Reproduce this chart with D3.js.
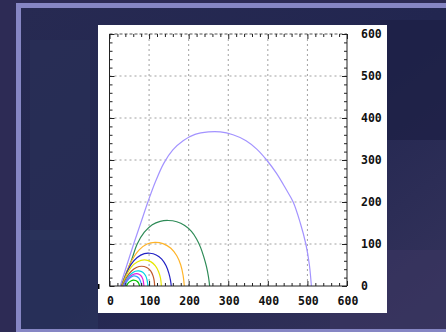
<!DOCTYPE html>
<html><head><meta charset="utf-8">
<script src="https://cdn.jsdelivr.net/npm/d3@7"></script>
<style>html,body{margin:0;padding:0;background:#2b2a52;overflow:hidden}</style>
</head><body>
<svg id="c" width="446" height="332"></svg>
<script>
// ---- data ----
const xTicks = [0, 100, 200, 300, 400, 500, 600];
const yTicks = [0, 100, 200, 300, 400, 500, 600];
const seriesNames = ["s1","s2","s3","s4","s5","s6","s7","s8","s9","s10"];
const seriesColors = ["#a393ff","#2e8b57","#ffb428","#2222c4","#e6e600","#c0582a","#00d4e6","#e020e0","#33a0ff","#00c000"];
const s1 = [[27,0],[44,50],[61,100],[79,150],[97,200],[116,248],[137,292],[160,324],[186,346],[216,361],[250,367],[280,367],[312,360],[345,346],[372,326],[397,300],[422,268],[445,232],[464,200],[482,150],[496,100],[505,50],[510,0]];
const s2 = [[30,0],[42,30],[55,60],[70,100],[88,128],[108,146],[128,154],[148,156],[170,153],[190,144],[207,130],[220,112],[230,92],[238,70],[245,46],[250,22],[253,0]];
const s3 = [[30,0],[42,30],[56,60],[75,86],[95,100],[115,104],[135,101],[155,90],[170,72],[180,50],[186,25],[189,0]];
const s4 = [[31,0],[42,28],[55,52],[70,68],[88,77],[102,78],[118,74],[132,64],[143,48],[150,30],[154,14],[156,0]];
const s5 = [[32,0],[42,25],[55,45],[70,57],[88,62],[104,58],[116,48],[124,34],[129,18],[131,0]];
const s6 = [[33,0],[43,20],[55,35],[68,44],[81,47],[94,44],[104,36],[110,24],[113,12],[114,0]];
const s7 = [[34,0],[44,17],[55,29],[65,35],[74,36],[84,33],[91,25],[95,14],[97,0]];
const s8 = [[35,0],[45,15],[55,25],[64,29],[72,29],[79,25],[84,17],[86,8],[87,0]];
const s9 = [[37,0],[45,12],[53,20],[61,24],[68,23],[74,19],[78,12],[80,6],[81,0]];
const s10 = [[43,0],[48,8],[54,12],[60,14],[66,13],[71,10],[74,6],[76,0]];
const seriesData = [s1,s2,s3,s4,s5,s6,s7,s8,s9,s10];

const svg = d3.select("#c");
const defs = svg.append("defs");
const g1 = defs.append("linearGradient").attr("id","bg").attr("x1","0").attr("y1","0").attr("x2","1").attr("y2","1");
g1.append("stop").attr("offset","0").attr("stop-color","#272a52");
g1.append("stop").attr("offset","0.5").attr("stop-color","#222650");
g1.append("stop").attr("offset","1").attr("stop-color","#36345c");
svg.append("rect").attr("width",446).attr("height",332).attr("fill","#2d2b55");
svg.append("rect").attr("x",16).attr("y",3).attr("width",440).attr("height",329).attr("fill","#8686c4");
svg.append("rect").attr("x",21).attr("y",8).attr("width",430).attr("height",321).attr("fill","url(#bg)");
const blocks = [[30,40,60,200,"#2a3058",0.6],[380,20,66,120,"#1c1f44",0.7],[330,250,116,79,"#3b3560",0.6],[21,230,77,99,"#2c3760",0.5]];
svg.selectAll("rect.blk").data(blocks).join("rect").attr("class","blk")
  .attr("x",d=>d[0]).attr("y",d=>d[1]).attr("width",d=>d[2]).attr("height",d=>d[3]).attr("fill",d=>d[4]).attr("opacity",d=>d[5]);

svg.append("rect").attr("x",98).attr("y",25).attr("width",289).attr("height",288).attr("fill","#ffffff");
svg.append("rect").attr("x",98).attr("y",284).attr("width",1.5).attr("height",5).attr("fill","#000");

const x = d3.scaleLinear().domain([0,600]).range([109.5,347]);
const y = d3.scaleLinear().domain([0,600]).range([286,34]);

const g = svg.append("g");
const gridColor = "#a0a0a0";
g.selectAll("line.vg").data(xTicks.slice(1,-1)).join("line").attr("class","vg")
  .attr("x1",d=>x(d)).attr("x2",d=>x(d)).attr("y1",y(0)).attr("y2",y(600))
  .attr("stroke",gridColor).attr("stroke-width",1).attr("stroke-dasharray","2,3");
g.selectAll("line.hg").data(yTicks.slice(1,-1)).join("line").attr("class","hg")
  .attr("y1",d=>y(d)).attr("y2",d=>y(d)).attr("x1",x(0)).attr("x2",x(600))
  .attr("stroke",gridColor).attr("stroke-width",1).attr("stroke-dasharray","2,3");

const line = d3.line().x(d=>x(d[0])).y(d=>y(d[1])).curve(d3.curveCatmullRom.alpha(0.5));
g.selectAll("path.s").data(seriesData).join("path").attr("class","s")
  .attr("d",line).attr("fill","none").attr("stroke",(d,i)=>seriesColors[i]).attr("stroke-width",1.2);

g.append("line").attr("x1",x(0)).attr("x2",x(600)).attr("y1",y(600)).attr("y2",y(600))
  .attr("stroke","#555").attr("stroke-dasharray","3,2");
g.append("line").attr("x1",x(0)).attr("x2",x(0)).attr("y1",y(0)).attr("y2",y(600)).attr("stroke","#222");
g.append("line").attr("x1",x(600)).attr("x2",x(600)).attr("y1",y(0)).attr("y2",y(600)).attr("stroke","#222");
g.append("line").attr("x1",x(0)).attr("x2",x(600)).attr("y1",y(0)).attr("y2",y(0)).attr("stroke","#222");

const minor = d3.range(0,601,20);
const axBottom = g.append("g").attr("transform",`translate(0,${y(0)})`)
  .call(d3.axisTop(x).tickValues(minor).tickSizeInner(0).tickSizeOuter(0).tickFormat(""));
axBottom.select(".domain").remove();
axBottom.selectAll(".tick line").attr("y2",d=>d%100===0?-5:-3).attr("stroke","#222");
const axTop = g.append("g").attr("transform",`translate(0,${y(600)})`)
  .call(d3.axisBottom(x).tickValues(minor).tickSizeInner(0).tickSizeOuter(0).tickFormat(""));
axTop.select(".domain").remove();
axTop.selectAll(".tick line").attr("y2",d=>d%100===0?5:3).attr("stroke","#222");
const axLeft = g.append("g").attr("transform",`translate(${x(0)},0)`)
  .call(d3.axisRight(y).tickValues(minor).tickSizeInner(0).tickSizeOuter(0).tickFormat(""));
axLeft.select(".domain").remove();
axLeft.selectAll(".tick line").attr("x2",d=>d%100===0?5:3).attr("stroke","#222");
const axRight = g.append("g").attr("transform",`translate(${x(600)},0)`)
  .call(d3.axisLeft(y).tickValues(minor).tickSizeInner(0).tickSizeOuter(0).tickFormat(""));
axRight.select(".domain").remove();
axRight.selectAll(".tick line").attr("x2",d=>d%100===0?-5:-3).attr("stroke","#222");

const font = "'DejaVu Sans Mono', 'Liberation Mono', monospace";
g.selectAll("text.xl").data(xTicks).join("text").attr("class","xl")
  .attr("x",d=>x(d)+1).attr("y",305).attr("text-anchor","middle")
  .attr("font-family",font).attr("font-weight","bold").attr("font-size",11.5).attr("fill","#111")
  .text(d=>d);
g.selectAll("text.yl").data(yTicks).join("text").attr("class","yl")
  .attr("x",361).attr("y",d=>y(d)+4).attr("text-anchor","start")
  .attr("font-family",font).attr("font-weight","bold").attr("font-size",11.5).attr("fill","#111")
  .text(d=>d);
</script>
</body></html>
